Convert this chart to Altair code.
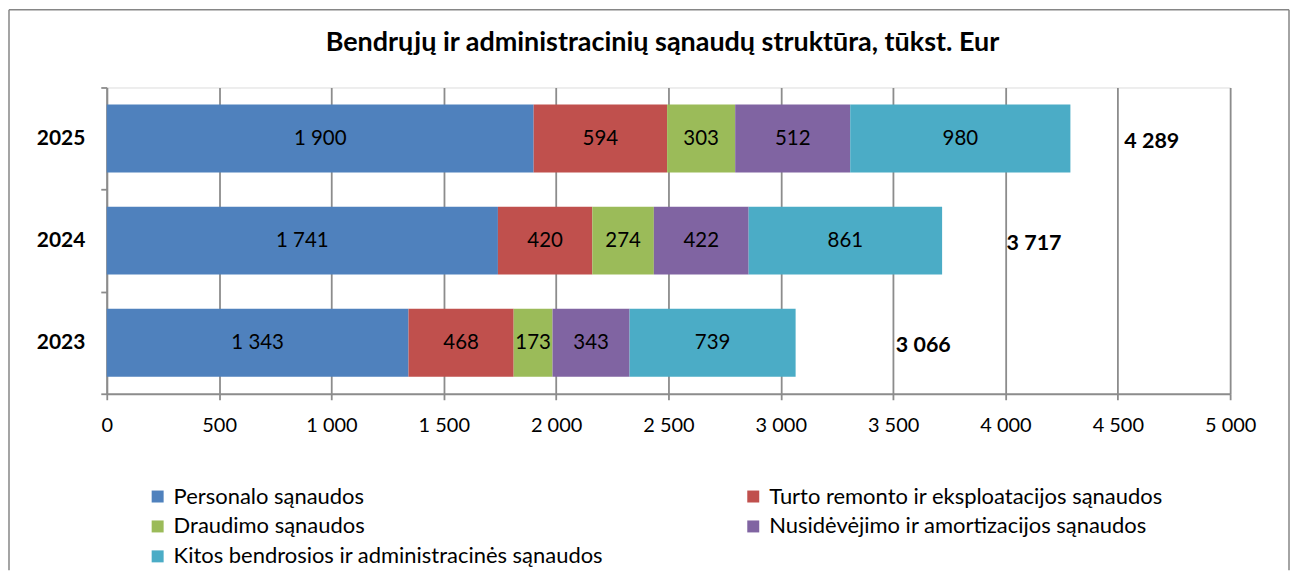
import altair as alt
import pandas as pd

years = ["2025", "2024", "2023"]
categories = [
    "Personalo sąnaudos",
    "Turto remonto ir eksploatacijos sąnaudos",
    "Draudimo sąnaudos",
    "Nusidėvėjimo ir amortizacijos sąnaudos",
    "Kitos bendrosios ir administracinės sąnaudos",
]
colors = ["#4F81BD", "#C0504D", "#9BBB59", "#8064A2", "#4BACC6"]
personalo = [1900, 1741, 1343]
turto = [594, 420, 468]
draudimo = [303, 274, 173]
nusidevejimo = [512, 422, 343]
kitos = [980, 861, 739]
totals = [4289, 3717, 3066]
total_label_x = [4529, 4005, 3512]
x_ticks = [0, 500, 1000, 1500, 2000, 2500, 3000, 3500, 4000, 4500, 5000]
title_text = "Bendrųjų ir administracinių sąnaudų struktūra, tūkst. Eur"

FONT = "Lato"
W, H = 1126, 307
GRID = "#8C8C8C"

series = [personalo, turto, draudimo, nusidevejimo, kitos]
rows = []
for yi, yr in enumerate(years):
    start = 0
    for ci, cat in enumerate(categories):
        v = series[ci][yi]
        rows.append({"year": yr, "cat": cat, "idx": ci, "start": start,
                     "end": start + v, "mid": start + v / 2,
                     "label": f"{v:,}".replace(",", " ")})
        start += v
df = pd.DataFrame(rows)
tot_df = pd.DataFrame({"year": years, "x": total_label_x,
                       "label": [f"{t:,}".replace(",", " ") for t in totals]})

# legend order reproduces the reference's row-by-row reading in a 2-column grid
legend_order = [categories[0], categories[2], categories[4], categories[1], categories[3]]

yscale = alt.Scale(domain=years, paddingInner=0, paddingOuter=0)
xscale = alt.Scale(domain=[0, 5000], nice=False)

bars = alt.Chart(df).mark_bar(size=68).encode(
    y=alt.Y("year:N", sort=years, scale=yscale,
            axis=alt.Axis(title=None, tickBand="extent",
                          labelFontWeight="bold", labelFontSize=21, labelFont=FONT,
                          labelColor="black", labelPadding=16, tickSize=6,
                          tickColor=GRID, tickWidth=1.8, domainColor=GRID,
                          domainWidth=1.8, grid=False)),
    x=alt.X("start:Q", scale=xscale,
            axis=alt.Axis(title=None, values=x_ticks, grid=True, gridColor=GRID,
                          gridWidth=1.8, domainColor=GRID, domainWidth=1.8,
                          tickColor=GRID, tickWidth=1.8,
                          tickSize=6, labelFontSize=20, labelFont=FONT, labelColor="black",
                          labelPadding=16, labelFlush=False,
                          labelExpr="replace(format(datum.value, ','), ',', ' ')")),
    x2="end:Q",
    color=alt.Color("cat:N", scale=alt.Scale(domain=categories, range=colors),
                    legend=alt.Legend(title=None, orient="none", legendX=40, legendY=399,
                                      columns=2, columnPadding=139, rowPadding=8,
                                      values=legend_order, labelLimit=0,
                                      symbolType="square", symbolSize=144,
                                      symbolStrokeWidth=0, labelFontSize=22,
                                      labelFont=FONT, labelColor="black", labelOffset=5,
                                      padding=0, direction="vertical")),
    order="idx:Q",
)

bar_text = alt.Chart(df).mark_text(font=FONT, fontSize=20.5, color="black",
                                   align="center", baseline="middle").encode(
    y=alt.Y("year:N", sort=years, scale=yscale),
    x=alt.X("mid:Q", scale=xscale),
    text="label:N",
)

tot_text = alt.Chart(tot_df).mark_text(font=FONT, fontSize=21.5, fontWeight="bold",
                                       color="black", align="left", baseline="middle",
                                       dy=3).encode(
    y=alt.Y("year:N", sort=years, scale=yscale),
    x=alt.X("x:Q", scale=xscale),
    text="label:N",
)

one = pd.DataFrame({"a": [0]})
title = alt.Chart(one).mark_text(font=FONT, fontSize=27, fontWeight="bold",
                                 color="black", align="center", baseline="middle").encode(
    x=alt.value(557), y=alt.value(-45), text=alt.value(title_text))

frame_style = dict(color="#868686", strokeWidth=1.5)
left = alt.Chart(one).mark_rule(**frame_style).encode(
    x=alt.value(-98), y=alt.value(-78), y2=alt.value(484))
right = alt.Chart(one).mark_rule(**frame_style).encode(
    x=alt.value(1185), y=alt.value(-78), y2=alt.value(484))
top = alt.Chart(one).mark_rule(**frame_style).encode(
    x=alt.value(-98), x2=alt.value(1185), y=alt.value(-78))

chart = alt.layer(bars, bar_text, tot_text, title, left, right, top).properties(
    width=W, height=H, padding=0
).configure_view(stroke=None).configure(background="white")

chart.save("out.html", embed_options={"renderer": "svg", "actions": False})
